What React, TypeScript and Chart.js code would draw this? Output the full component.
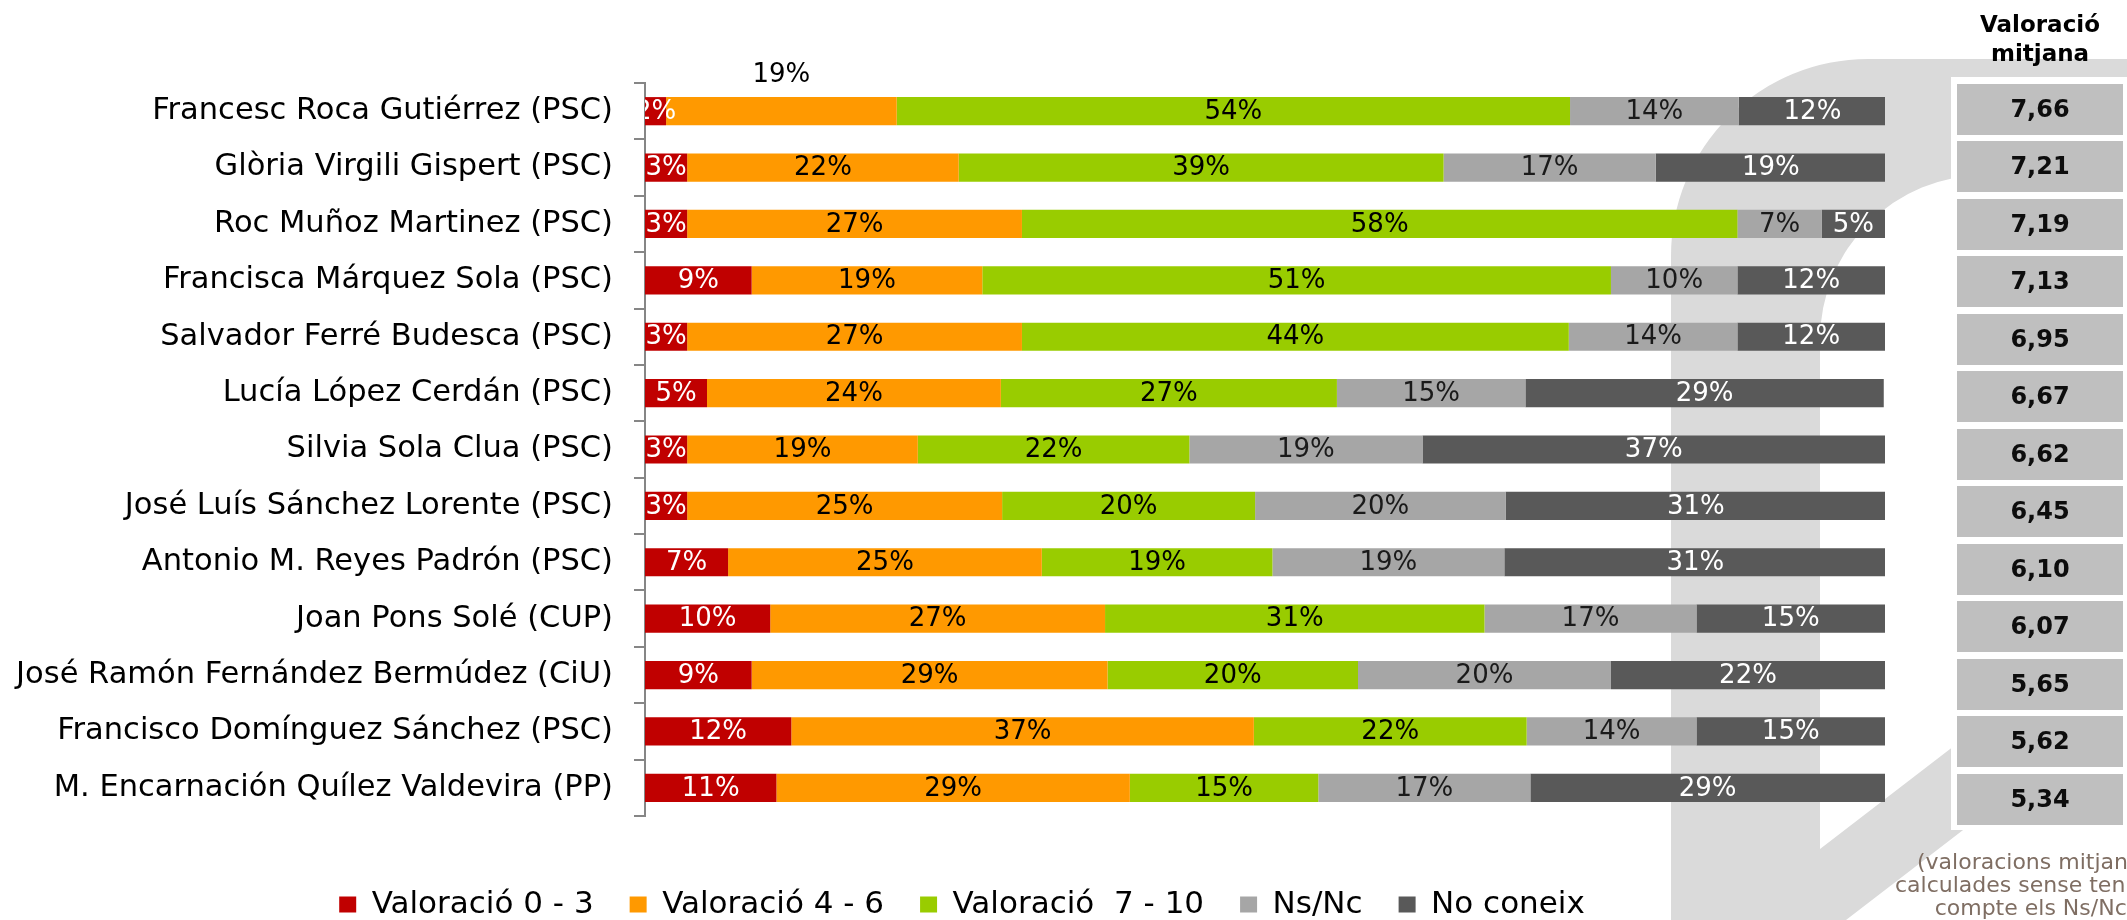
import React, { useEffect, useRef } from 'react';
import { Chart, registerables } from 'chart.js';

Chart.register(...registerables);

const FONT = '"DejaVu Sans", sans-serif';

const candidates = [
  'Francesc Roca Gutiérrez (PSC)',
  'Glòria Virgili Gispert (PSC)',
  'Roc Muñoz Martinez (PSC)',
  'Francisca Márquez Sola (PSC)',
  'Salvador Ferré Budesca (PSC)',
  'Lucía López Cerdán (PSC)',
  'Silvia Sola Clua (PSC)',
  'José Luís Sánchez Lorente (PSC)',
  'Antonio M. Reyes Padrón (PSC)',
  'Joan Pons Solé (CUP)',
  'José Ramón Fernández Bermúdez (CiU)',
  'Francisco Domínguez Sánchez (PSC)',
  'M. Encarnación Quílez Valdevira (PP)',
];

const seriesLabels = ['Valoració 0 - 3', 'Valoració 4 - 6', 'Valoració  7 - 10', 'Ns/Nc', 'No coneix'];
const seriesColors = ['#C00000', '#FF9900', '#99CC00', '#A6A6A6', '#595959'];
const labelColors = ['#FFFFFF', '#000000', '#000000', '#1A1A1A', '#FFFFFF'];

const score0to3 = [1.7, 3.4, 3.4, 8.6, 3.4, 5.0, 3.4, 3.4, 6.7, 10.1, 8.6, 11.8, 10.6];
const score4to6 = [18.6, 21.9, 27.0, 18.6, 27.0, 23.7, 18.6, 25.4, 25.3, 27.0, 28.7, 37.3, 28.5];
const score7to10 = [54.3, 39.1, 57.7, 50.7, 44.1, 27.1, 21.9, 20.4, 18.6, 30.6, 20.2, 22.0, 15.2];
const nsNc = [13.6, 17.1, 6.8, 10.2, 13.6, 15.2, 18.8, 20.2, 18.7, 17.1, 20.4, 13.7, 17.1];
const noConeix = [11.9, 18.6, 5.1, 11.9, 11.9, 28.9, 37.3, 30.7, 30.8, 15.2, 22.1, 15.2, 28.6];

const averageRating = [7.66, 7.21, 7.19, 7.13, 6.95, 6.67, 6.62, 6.45, 6.10, 6.07, 5.65, 5.62, 5.34];

const panelTitle = ['Valoració', 'mitjana'];
const footnoteLines = ['(valoracions mitjanes', 'calculades sense tenir en', 'compte els Ns/Nc)'];

// labels drawn above their bar instead of inside (as in the original)
const labelsAbove = [{ dataset: 1, index: 0 }];

const valueLabels = {
  id: 'valueLabels',
  afterDatasetsDraw(chart: any) {
    const { ctx, chartArea } = chart;
    ctx.save();
    ctx.beginPath();
    ctx.rect(chartArea.left, 0, chartArea.right - chartArea.left, chart.height);
    ctx.clip();
    ctx.font = '26px ' + FONT;
    ctx.textAlign = 'center';
    ctx.textBaseline = 'middle';
    chart.data.datasets.forEach((ds: any, di: number) => {
      const meta = chart.getDatasetMeta(di);
      meta.data.forEach((el: any, i: number) => {
        const v = ds.data[i];
        const p = el.getProps(['x', 'y', 'base', 'height'], true);
        const above = labelsAbove.some((q) => q.dataset === di && q.index === i);
        ctx.fillStyle = above ? '#000000' : labelColors[di];
        const cy = above ? p.y - p.height * 1.28 : p.y + 1;
        ctx.fillText(Math.round(v) + '%', (p.x + p.base) / 2, cy);
      });
    });
    ctx.restore();
  },
};

export default function App() {
  const canvasRef = useRef<HTMLCanvasElement | null>(null);

  useEffect(() => {
    if (!canvasRef.current) return;
    const series = [score0to3, score4to6, score7to10, nsNc, noConeix];
    const chart = new Chart(canvasRef.current, {
      type: 'bar',
      data: {
        labels: candidates,
        datasets: series.map((d, i) => ({
          label: seriesLabels[i],
          data: d,
          backgroundColor: seriesColors[i],
          borderWidth: 0,
          barPercentage: 1,
          categoryPercentage: 0.5,
        })),
      },
      options: {
        indexAxis: 'y',
        responsive: false,
        animation: false,
        layout: { padding: { top: 83, right: 32, left: 0, bottom: 0 } },
        scales: {
          x: {
            stacked: true,
            min: 0,
            max: 100,
            display: true,
            ticks: { display: false },
            grid: { display: false },
            border: { display: false },
            afterFit: (s: any) => {
              s.height = 37;
            },
          },
          y: {
            stacked: true,
            ticks: {
              color: '#000000',
              font: { family: FONT, size: 30.5 },
              padding: 21,
              autoSkip: false,
            },
            grid: {
              drawOnChartArea: false,
              drawTicks: true,
              tickLength: 11,
              color: '#868686',
              lineWidth: 2,
            },
            border: { display: true, color: '#868686', width: 2 },
            afterFit: (s: any) => {
              s.width = 645;
            },
          },
          yRight: {
            type: 'category',
            position: 'right',
            display: true,
            ticks: { display: false },
            grid: { display: false },
            border: { display: false },
            afterFit: (s: any) => {
              s.width = 39;
            },
          },
        },
        plugins: {
          legend: {
            position: 'bottom',
            labels: {
              color: '#000000',
              font: { family: FONT, size: 31 },
              boxWidth: 17,
              boxHeight: 16,
              padding: 36,
            },
          },
          tooltip: { enabled: false },
          title: { display: false },
        },
      },
      plugins: [valueLabels],
    } as any);
    return () => chart.destroy();
  }, []);

  const cellTop = 83.5;
  const cellPitch = 57.5;

  return (
    <div
      style={{
        position: 'absolute',
        left: 0,
        top: 0,
        width: 2127,
        height: 920,
        overflow: 'hidden',
        background: '#ffffff',
        fontFamily: FONT,
      }}
    >
      <svg width={2127} height={920} style={{ position: 'absolute', left: 0, top: 0 }}>
        <path
          d="M 1671 920 L 1671 256 A 197 197 0 0 1 1868 59 L 2127 59 L 2127 175 L 1985 175 A 165 165 0 0 0 1820 340 L 1820 849 L 2127 613 L 2127 704 L 1820 940 L 1820 920 Z"
          fill="#DADADA"
        />
      </svg>
      <div style={{ position: 'absolute', left: 0, top: 0, width: 1956, height: 930 }}>
        <canvas ref={canvasRef} width={1956} height={930} />
      </div>
      <div
        style={{
          position: 'absolute',
          left: 1940,
          top: 10,
          width: 200,
          textAlign: 'center',
          fontWeight: 'bold',
          fontSize: 23,
          lineHeight: '29px',
          color: '#000000',
        }}
      >
        {panelTitle[0]}
        <br />
        {panelTitle[1]}
      </div>
      <div
        style={{
          position: 'absolute',
          left: 1951,
          top: 77,
          width: 200,
          height: 753,
          background: '#ffffff',
        }}
      />
      {averageRating.map((v, i) => (
        <div
          key={i}
          style={{
            position: 'absolute',
            left: 1957,
            top: cellTop + i * cellPitch,
            width: 166,
            height: 51,
            lineHeight: '51px',
            background: '#BFBFBF',
            textAlign: 'center',
            fontWeight: 'bold',
            fontSize: 24,
            color: '#0D0D0D',
          }}
        >
          {v.toFixed(2).replace('.', ',')}
        </div>
      ))}
      <div
        style={{
          position: 'absolute',
          left: 1835,
          top: 850,
          width: 400,
          textAlign: 'center',
          fontSize: 22,
          lineHeight: '23px',
          color: '#7F6E63',
          whiteSpace: 'nowrap',
        }}
      >
        {footnoteLines[0]}
        <br />
        {footnoteLines[1]}
        <br />
        {footnoteLines[2]}
      </div>
    </div>
  );
}
